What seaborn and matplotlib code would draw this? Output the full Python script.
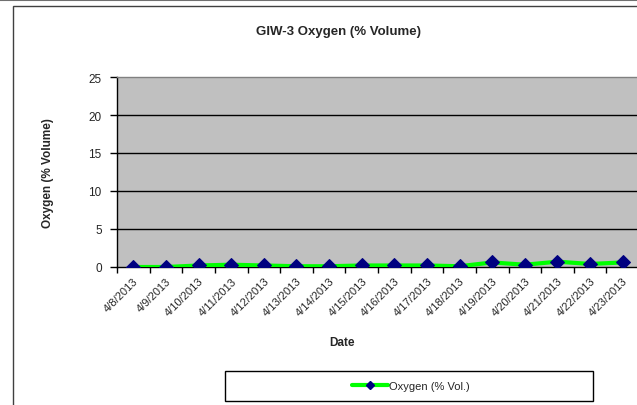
import pandas as pd
import matplotlib
matplotlib.use("Agg")
import matplotlib.pyplot as plt
import seaborn as sns
from matplotlib.patches import Rectangle
from matplotlib.lines import Line2D

# Data
dates = ["4/8/2013", "4/9/2013", "4/10/2013", "4/11/2013", "4/12/2013", "4/13/2013",
         "4/14/2013", "4/15/2013", "4/16/2013", "4/17/2013", "4/18/2013", "4/19/2013",
         "4/20/2013", "4/21/2013", "4/22/2013", "4/23/2013"]
oxygen = [0.0, 0.0, 0.2, 0.3, 0.2, 0.1, 0.1, 0.2, 0.2, 0.2, 0.1, 0.6, 0.3, 0.7, 0.4, 0.6]
y_ticks = [0, 5, 10, 15, 20, 25]

df = pd.DataFrame({"Date": dates, "Oxygen": oxygen})

sns.set_style("white")
plt.rcParams['font.family'] = ['Liberation Sans', 'DejaVu Sans']

W, H = 637, 406
fig = plt.figure(figsize=(W / 100, H / 100), dpi=100)

# outer chart frame (drawn behind the axes)
fig.add_artist(Line2D([0, 1], [1 - 0.5 / H, 1 - 0.5 / H], color="#707070", lw=1.5,
                      transform=fig.transFigure, zorder=-10))
fig.add_artist(Rectangle((13 / W, -0.1), 1.2, 1 - 7 / H + 0.1, transform=fig.transFigure,
                         facecolor="white", edgecolor="#404040", lw=1, zorder=-10))

ax = fig.add_axes([117 / W, (H - 268) / H, (639 - 117) / W, (268 - 78) / H])
ax.set_facecolor("#C0C0C0")

sns.lineplot(data=df, x="Date", y="Oxygen", ax=ax, color="#00FF00", lw=3,
             marker="D", markersize=7, markerfacecolor="#000080",
             markeredgecolor="#000080", sort=False, zorder=3)

ax.set_xlim(-0.5, len(dates) - 0.5)
ax.set_ylim(0, 25)
ax.set_yticks(y_ticks)
for v in y_ticks[1:-1]:
    ax.axhline(v, color="black", lw=1, zorder=1)

ax.set_xticks(range(len(dates)))
ax.set_xticklabels(dates, rotation=45, ha="right", rotation_mode="anchor", fontsize=8)
ax.set_xticks([i - 0.5 for i in range(len(dates) + 1)], minor=True)
ax.tick_params(axis="x", which="major", length=0, pad=6)
ax.tick_params(axis="x", which="minor", length=4, width=1, color="black", direction="out")
ax.tick_params(axis="y", length=5, width=1, color="black", direction="out", labelsize=8.5, pad=6)
ax.yaxis.set_ticks_position("left")
ax.xaxis.set_ticks_position("bottom")

for side in ["top", "right"]:
    ax.spines[side].set_color("#808080")
    ax.spines[side].set_linewidth(1)
for side in ["left", "bottom"]:
    ax.spines[side].set_color("black")
    ax.spines[side].set_linewidth(1)

ax.set_xlabel("Date", fontsize=8.5, fontweight="bold")
ax.set_ylabel("Oxygen (% Volume)", fontsize=8.5, fontweight="bold")
ax.xaxis.set_label_coords((342 - 117) / (639 - 117), -(343 - 268) / (268 - 78))
ax.yaxis.set_label_coords(-(117 - 48) / (639 - 117), 0.5)
ax.xaxis.label.set_va("center")
ax.yaxis.label.set_va("center")

fig.text(338 / W, 1 - 32 / H, "GIW-3 Oxygen (% Volume)", ha="center", va="center",
         fontsize=9.5, fontweight="bold")

# legend box
fig.add_artist(Rectangle((225 / W, (H - 402) / H), (593 - 225) / W, 30 / H,
                         transform=fig.transFigure, facecolor="white",
                         edgecolor="black", lw=1))
handle = Line2D([], [], color="#00FF00", lw=3, marker="D", markersize=4,
                markerfacecolor="#000080", markeredgecolor="#000080")
fig.legend([handle], ["Oxygen (% Vol.)"], loc="center",
           bbox_to_anchor=(411 / W, 1 - 387 / H), frameon=False, fontsize=8,
           handlelength=3.2, handletextpad=0.1)

fig.savefig("out.png", dpi=100)
